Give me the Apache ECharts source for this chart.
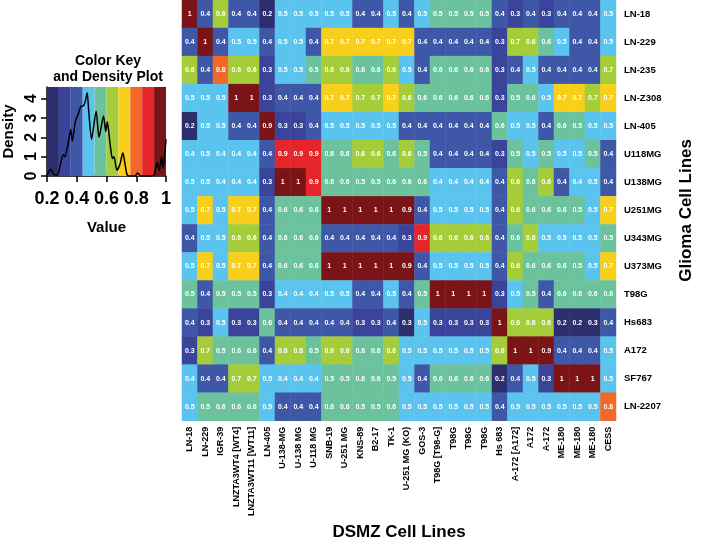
<!DOCTYPE html>
<html><head><meta charset="utf-8">
<script src="https://cdn.jsdelivr.net/npm/echarts@6/dist/echarts.min.js"></script>
<style>html,body{margin:0;padding:0;background:#fff}#c{width:703px;height:546px}</style>
</head><body><div id="c"></div>
<script>
// ---- categories ----
const dsmzLines = ['LN-18','LN-229','IGR-39','LNZTA3WT4 [WT4]','LNZTA3WT11 [WT11]','LN-405','U-138-MG','U-138 MG','U-118 MG','SNB-19','U-251 MG','KNS-89','B2-17','TK-1','U-251 MG (KO)','GOS-3','T98G [T98-G]','T98G','T98G','T98G','Hs 683','A-172 [A172]','A172','A-172','ME-180','ME-180','ME-180','CESS'];
const gliomaLines = ['LN-18','LN-229','LN-235','LN-Z308','LN-405','U118MG','U138MG','U251MG','U343MG','U373MG','T98G','Hs683','A172','SF767','LN-2207'];

// ---- similarity values, one array per glioma line (columns follow dsmzLines) ----
const rowLN18   = [1,0.4,0.62,0.4,0.4,0.22,0.49,0.49,0.49,0.49,0.49,0.4,0.4,0.49,0.4,0.49,0.54,0.54,0.54,0.54,0.4,0.31,0.4,0.31,0.4,0.4,0.4,0.49];
const rowLN229  = [0.4,1,0.4,0.49,0.49,0.4,0.49,0.49,0.4,0.71,0.71,0.71,0.71,0.71,0.71,0.4,0.4,0.4,0.4,0.4,0.31,0.66,0.62,0.58,0.49,0.4,0.4,0.49];
const rowLN235  = [0.62,0.4,0.8,0.62,0.62,0.31,0.49,0.49,0.54,0.62,0.62,0.58,0.58,0.62,0.49,0.4,0.58,0.58,0.58,0.58,0.31,0.4,0.49,0.4,0.4,0.4,0.4,0.66];
const rowLNZ308 = [0.49,0.49,0.49,1,1,0.31,0.4,0.4,0.4,0.71,0.71,0.66,0.66,0.71,0.62,0.58,0.58,0.58,0.58,0.58,0.31,0.54,0.58,0.49,0.71,0.71,0.66,0.71];
const rowLN405  = [0.22,0.49,0.49,0.4,0.4,0.93,0.31,0.31,0.4,0.49,0.49,0.49,0.49,0.49,0.4,0.4,0.4,0.4,0.4,0.4,0.58,0.49,0.49,0.4,0.58,0.54,0.49,0.49];
const rowU118MG = [0.44,0.49,0.44,0.44,0.44,0.4,0.88,0.88,0.88,0.58,0.58,0.62,0.62,0.58,0.62,0.54,0.4,0.4,0.4,0.4,0.31,0.54,0.49,0.54,0.49,0.49,0.54,0.4];
const rowU138MG = [0.49,0.49,0.44,0.44,0.44,0.31,1,1,0.88,0.58,0.58,0.54,0.54,0.58,0.58,0.58,0.44,0.44,0.44,0.44,0.4,0.62,0.58,0.62,0.4,0.44,0.49,0.4];
const rowU251MG = [0.49,0.71,0.49,0.71,0.71,0.4,0.58,0.58,0.58,1,1,1,1,1,0.93,0.4,0.49,0.49,0.49,0.49,0.4,0.62,0.58,0.58,0.58,0.54,0.49,0.71];
const rowU343MG = [0.4,0.49,0.49,0.62,0.62,0.4,0.58,0.58,0.58,0.4,0.4,0.4,0.4,0.4,0.31,0.88,0.62,0.62,0.62,0.62,0.4,0.58,0.62,0.49,0.49,0.49,0.49,0.54];
const rowU373MG = [0.49,0.71,0.49,0.71,0.71,0.4,0.58,0.58,0.58,1,1,1,1,1,0.93,0.4,0.49,0.49,0.49,0.49,0.4,0.62,0.58,0.58,0.58,0.54,0.49,0.71];
const rowT98G   = [0.54,0.4,0.54,0.54,0.54,0.31,0.44,0.44,0.44,0.49,0.49,0.4,0.4,0.49,0.4,0.54,1,1,1,1,0.31,0.49,0.54,0.4,0.58,0.58,0.58,0.58];
const rowHs683  = [0.4,0.31,0.49,0.31,0.31,0.58,0.4,0.4,0.4,0.4,0.4,0.31,0.31,0.4,0.27,0.49,0.31,0.31,0.31,0.31,1,0.62,0.62,0.62,0.22,0.22,0.27,0.4];
const rowA172   = [0.31,0.66,0.54,0.58,0.58,0.4,0.62,0.62,0.54,0.62,0.62,0.58,0.58,0.62,0.49,0.49,0.49,0.49,0.49,0.49,0.62,1,1,0.93,0.4,0.4,0.4,0.49];
const rowSF767  = [0.44,0.4,0.4,0.66,0.66,0.49,0.44,0.44,0.44,0.54,0.54,0.58,0.58,0.54,0.49,0.4,0.58,0.58,0.58,0.58,0.22,0.4,0.49,0.31,1,1,1,0.49];
const rowLN2207 = [0.49,0.54,0.58,0.58,0.58,0.49,0.4,0.4,0.4,0.58,0.58,0.54,0.54,0.58,0.49,0.49,0.49,0.49,0.49,0.49,0.4,0.49,0.49,0.49,0.49,0.49,0.49,0.8];

// ---- colour key ----
const keyBreaks = [0.2,0.28,0.36,0.44,0.52,0.6,0.68,0.76,0.84,0.92,1.0];
const keyColors = ['#2c2e6d','#39449a','#3f57a7','#5bc4ee','#6bc29c','#a5cd3a','#f8d01c','#f26829','#e4262a','#7b1416'];
const keyTicksX = [0.2,0.4,0.6,0.8,1];
const keyTicksY = [0,1,2,3,4];
// density curve
const densityX = [0.20,0.225,0.245,0.27,0.29,0.31,0.32,0.34,0.36,0.37,0.39,0.41,0.43,0.44,0.455,0.47,0.48,0.50,0.53,0.55,0.58,0.595,0.605,0.625,0.64,0.65,0.67,0.69,0.71,0.725,0.74,0.77,0.79,0.81,0.83,0.90,0.92,0.94,0.955,0.97,0.98,0.99,1.0];
const densityY = [0.05,0.35,0.1,0.05,0.6,1.1,1.0,1.6,2.4,1.8,2.8,3.2,3.6,3.6,3.8,4.3,3.4,1.9,3.35,2.0,3.1,2.3,2.8,1.6,0.9,1.0,0.3,0.6,1.2,0.6,0.05,0,0,0.15,0,0,0.05,0.7,0.3,1.0,0.4,1.0,1.9];

const rows = [rowLN18,rowLN229,rowLN235,rowLNZ308,rowLN405,rowU118MG,rowU138MG,rowU251MG,rowU343MG,rowU373MG,rowT98G,rowHs683,rowA172,rowSF767,rowLN2207];
const cells = [];
rows.forEach((r, yi) => r.forEach((v, xi) => cells.push([xi, yi, v])));
const pieces = keyColors.map((c, i) => ({ gte: keyBreaks[i], lt: i === keyColors.length - 1 ? 1.001 : keyBreaks[i + 1], color: c }));
const FONT = '"Liberation Sans", Arial, Helvetica, sans-serif';

const chart = echarts.init(document.getElementById('c'), null, { renderer: 'canvas' });
chart.setOption({
  backgroundColor: '#ffffff',
  animation: false,
  textStyle: { fontFamily: FONT },
  title: {
    text: 'Color Key\nand Density Plot', left: 103, top: 48, textAlign: 'center',
    textStyle: { fontFamily: FONT, fontSize: 14, fontWeight: 'bold', color: '#000', lineHeight: 16 }
  },
  grid: [
    { left: 182, top: 0, width: 440, height: 440 },
    { left: 47, top: 87, width: 119, height: 89 }
  ],
  xAxis: [
    { type: 'category', gridIndex: 0, data: dsmzLines, position: 'bottom',
      axisLine: { show: false }, axisTick: { show: false }, splitLine: { show: false },
      axisLabel: { interval: 0, rotate: 90, fontSize: 9, fontWeight: 'bold', color: '#000', margin: 6, fontFamily: FONT },
      name: 'DSMZ Cell Lines', nameLocation: 'middle', nameGap: 95,
      nameTextStyle: { fontSize: 17, fontWeight: 'bold', color: '#000', fontFamily: FONT } },
    { type: 'value', gridIndex: 1, min: 0.2, max: 1, interval: 0.2,
      axisLine: { show: true, lineStyle: { color: '#000', width: 1.5 } },
      axisTick: { show: true, length: 6, lineStyle: { color: '#000', width: 1.5 } },
      splitLine: { show: false },
      axisLabel: { fontSize: 18, fontWeight: 'bold', color: '#000', margin: 14, fontFamily: FONT,
                   formatter: v => String(Math.round(v * 10) / 10) },
      name: 'Value', nameLocation: 'middle', nameGap: 44,
      nameTextStyle: { fontSize: 15, fontWeight: 'bold', color: '#000', fontFamily: FONT } }
  ],
  yAxis: [
    { type: 'category', gridIndex: 0, data: gliomaLines, inverse: true, position: 'right',
      axisLine: { show: false }, axisTick: { show: false }, splitLine: { show: false },
      axisLabel: { interval: 0, fontSize: 9.5, fontWeight: 'bold', color: '#000', margin: 8, fontFamily: FONT },
      name: 'Glioma Cell Lines', nameLocation: 'middle', nameRotate: 90, nameGap: 62,
      nameTextStyle: { fontSize: 17, fontWeight: 'bold', color: '#000', fontFamily: FONT } },
    { type: 'value', gridIndex: 1, min: 0, max: 4.6,
      axisLine: { show: true, lineStyle: { color: '#000', width: 1.5 } },
      axisTick: { show: true, length: 6, customValues: keyTicksY, lineStyle: { color: '#000', width: 1.5 } },
      splitLine: { show: false },
      axisLabel: { customValues: keyTicksY, rotate: 90, fontSize: 16, fontWeight: 'bold', color: '#000', margin: 7, fontFamily: FONT },
      name: 'Density', nameLocation: 'middle', nameRotate: 90, nameGap: 31,
      nameTextStyle: { fontSize: 15, fontWeight: 'bold', color: '#000', fontFamily: FONT } }
  ],
  visualMap: { type: 'piecewise', show: false, seriesIndex: 0, dimension: 2, pieces: pieces },
  series: [
    { type: 'heatmap', xAxisIndex: 0, yAxisIndex: 0, data: cells,
      itemStyle: { borderWidth: 0 },
      emphasis: { disabled: true },
      label: { show: true, color: '#ffffff', fontSize: 7, fontWeight: 'bold', fontFamily: FONT,
               formatter: p => String(Math.round(p.value[2] * 10) / 10) } },
    { type: 'line', xAxisIndex: 1, yAxisIndex: 1, data: [], z: 1, silent: true,
      markArea: { silent: true,
        data: keyColors.map((c, i) => [{ xAxis: keyBreaks[i], itemStyle: { color: c, opacity: 1 } }, { xAxis: keyBreaks[i + 1] }]) } },
    { type: 'line', xAxisIndex: 1, yAxisIndex: 1, z: 5, silent: true,
      data: densityX.map((x, i) => [x, densityY[i]]),
      showSymbol: false, smooth: 0.25,
      lineStyle: { color: '#000', width: 1.5 } }
  ]
});
</script></body></html>
